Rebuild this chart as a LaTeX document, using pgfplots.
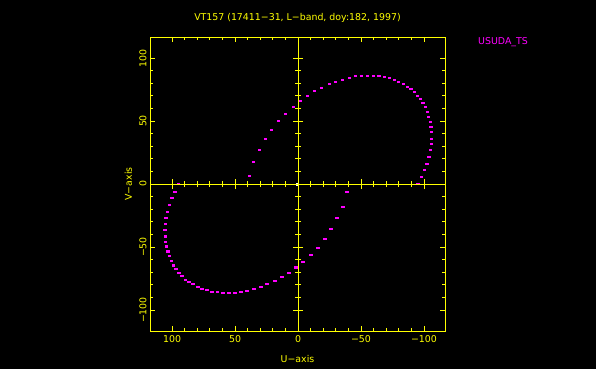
\documentclass[border=0pt]{standalone}
\usepackage{pgfplots}
\pgfplotsset{compat=1.18}
\usepackage{fontspec}
\setmainfont{DejaVu Sans}
\definecolor{pgyel}{RGB}{255,255,0}
\definecolor{pgmag}{RGB}{255,0,255}
\pgfplotstableread{
u v
38.6 6.3
35.5 17.7
30.7 27.0
26.0 35.7
21.2 43.4
15.6 50.3
10.0 56.0
3.7 61.4
-1.8 66.0
-7.4 70.4
-12.9 73.8
-18.5 76.7
-24.8 79.4
-29.6 81.5
-35.2 83.1
-40.7 84.6
-45.5 85.7
-50.2 86.0
-55.0 86.2
-59.8 86.2
-64.0 85.7
-68.5 85.2
-72.5 84.1
-76.4 83.1
-79.6 81.5
-83.6 79.4
-86.7 77.5
-89.4 75.7
-92.3 73.0
-94.7 70.4
-97.1 67.5
-99.0 64.5
-100.8 61.1
-102.4 57.1
-103.4 53.4
-104.8 49.4
-105.3 45.5
-105.6 41.5
-105.8 36.2
-105.6 31.7
-105.0 27.0
-103.7 21.7
-102.1 16.4
-100.3 11.1
-97.9 5.8
-95.0 0.0
}\upperarc
\pgfplotstableread{
u v
-38.6 -6.3
-35.5 -17.7
-30.7 -27.0
-26.0 -35.7
-21.2 -43.4
-15.6 -50.3
-10.0 -56.0
-3.7 -61.4
1.8 -66.0
7.4 -70.4
12.9 -73.8
18.5 -76.7
24.8 -79.4
29.6 -81.5
35.2 -83.1
40.7 -84.6
45.5 -85.7
50.2 -86.0
55.0 -86.2
59.8 -86.2
64.0 -85.7
68.5 -85.2
72.5 -84.1
76.4 -83.1
79.6 -81.5
83.6 -79.4
86.7 -77.5
89.4 -75.7
92.3 -73.0
94.7 -70.4
97.1 -67.5
99.0 -64.5
100.8 -61.1
102.4 -57.1
103.4 -53.4
104.8 -49.4
105.3 -45.5
105.6 -41.5
105.8 -36.2
105.6 -31.7
105.0 -27.0
103.7 -21.7
102.1 -16.4
100.3 -11.1
97.9 -5.8
95.0 0.0
}\lowerarc
\newcommand{\pgf}{\fontsize{9.4bp}{10bp}\selectfont}
\begin{document}
\begin{tikzpicture}[x=1bp,y=1bp]
\fill[black] (0,0) rectangle (596,369);
\pgfplotsset{
  pgstyle/.style={
    scale only axis, width=295bp, height=294bp,
    at={(150bp,38bp)}, anchor=south west,
    x dir=reverse,
    xmin=-116.7, xmax=117.5, ymin=-116.7, ymax=116.7,
    xtick={-100,-50,...,100}, ytick={-100,-50,...,100},
    minor tick num=4,
    major tick length=5bp, minor tick length=3bp,
    axis line style={pgyel, line width=0.8bp},
    tick style={pgyel, line width=0.8bp},
    every tick label/.append style={font=\pgf, text=pgyel},
  }
}
\begin{axis}[pgstyle,
  tick align=inside,
  xticklabels={−100,−50,0,50,100},
  yticklabels={−100,−50,0,50,100},
  xticklabel style={yshift=-0.5bp},
  yticklabel style={rotate=90, anchor=south},
  title={VT157 (17411−31, L−band, doy:182, 1997)},
  title style={at={(0.5,1)}, anchor=center, yshift=13.5bp, font=\pgf, text=pgyel},
  xlabel={U−axis}, ylabel={V−axis},
  xlabel style={at={(0.5,0)}, anchor=center, yshift=-28bp, font=\pgf, text=pgyel},
  ylabel style={at={(0,0.5)}, anchor=center, yshift=21.7bp, font=\pgf, text=pgyel},
  clip=false,
]
\addplot[only marks, mark=square*, mark size=0.9bp, mark options={xscale=1.3, yscale=0.65}, color=pgmag] table[x=u,y=v] {\upperarc};
\addplot[only marks, mark=square*, mark size=0.9bp, mark options={xscale=1.3, yscale=0.65}, color=pgmag] table[x=u,y=v] {\lowerarc};
\addplot[only marks, mark=square*, mark size=0.7bp, color=white] coordinates {(1,0)};
\end{axis}
\begin{axis}[pgstyle,
  axis lines=middle, axis line style={-},
  tick align=center,
  xticklabels={}, yticklabels={},
  major tick length=10bp, minor tick length=6bp,
]
\end{axis}
\node[anchor=west, text=pgmag, font=\pgf] at (474.7,327.3) {USUDA\_TS};
\end{tikzpicture}
\end{document}
